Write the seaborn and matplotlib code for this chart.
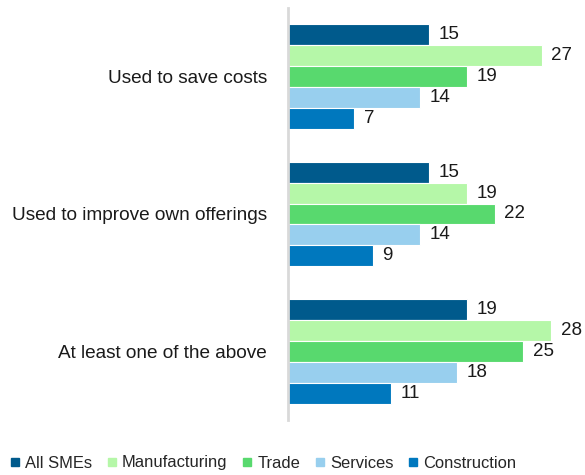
import matplotlib
matplotlib.use("Agg")
import matplotlib.pyplot as plt
from matplotlib.lines import Line2D
import seaborn as sns
import pandas as pd

categories = ["Used to save costs", "Used to improve own offerings", "At least one of the above"]
series_names = ["All SMEs", "Manufacturing", "Trade", "Services", "Construction"]
all_smes = [15, 15, 19]
manufacturing = [27, 19, 28]
trade = [19, 22, 25]
services = [14, 14, 18]
construction = [7, 9, 11]
colors = ["#005A8C", "#B5F7A8", "#58D96E", "#98CFEE", "#0078BE"]

values = [all_smes, manufacturing, trade, services, construction]
rows = []
for name, vals in zip(series_names, values):
    for cat, v in zip(categories, vals):
        rows.append({"category": cat, "series": name, "value": v})
df = pd.DataFrame(rows)

sns.set_theme(style="white")
plt.rcParams["font.family"] = ["Liberation Sans", "DejaVu Sans"]

fig = plt.figure(figsize=(5.85, 4.75), dpi=100)
ax = fig.add_axes([288 / 585, 1 - 420 / 475, 1 - 288 / 585, (420 - 8) / 475])

sns.barplot(data=df, y="category", x="value", hue="series", order=categories,
            hue_order=series_names, palette=colors, saturation=1, orient="h",
            width=0.76, edgecolor="white", linewidth=0.8, legend=False, ax=ax)

for container in ax.containers:
    ax.bar_label(container, padding=7, fontsize=13.5, color="#1a1a1a")

ax.set_xlim(0, 31.6)
ax.set_ylim(2.5, -0.5)
ax.set_xlabel("")
ax.set_ylabel("")
ax.set_xticks([])
ax.tick_params(axis="y", length=0, pad=15, labelsize=13.7, labelcolor="#1a1a1a")
for side in ["top", "right", "bottom"]:
    ax.spines[side].set_visible(False)
ax.spines["left"].set_color("#D9D9D9")
ax.spines["left"].set_linewidth(2)

handles = [Line2D([0], [0], marker="s", linestyle="", markersize=5.5,
                  markerfacecolor=c, markeredgecolor=c) for c in colors]
fig.legend(handles, series_names, loc="center left", bbox_to_anchor=(11 / 585, 1 - 463 / 475),
           ncol=5, frameon=False, fontsize=11.9, handlelength=0.5, handletextpad=0.35,
           columnspacing=0.95, borderaxespad=0, borderpad=0)

fig.savefig("out.png", dpi=100)
